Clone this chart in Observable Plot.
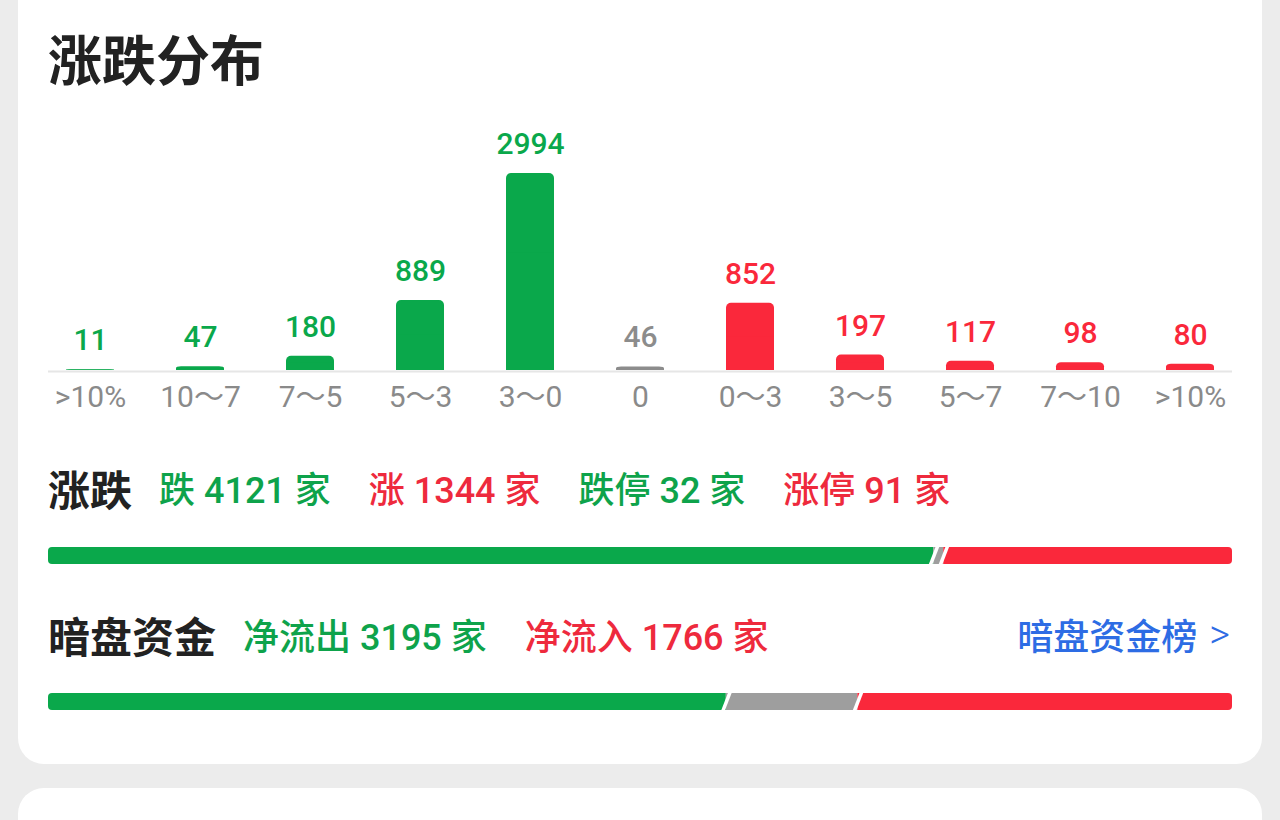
<!DOCTYPE html>
<html>
<head>
<meta charset="utf-8">
<script src="https://cdn.jsdelivr.net/npm/d3@7"></script>
<script src="https://cdn.jsdelivr.net/npm/@observablehq/plot@0.6"></script>
<style>
  html, body { margin: 0; padding: 0; }
  body { width: 1280px; height: 820px; overflow: hidden; position: relative; background: #ececec;
         font-family: Roboto, "Noto Sans CJK SC", sans-serif; }
  .card { position: absolute; background: #fff; border-radius: 26px; }
  .abs { position: absolute; }
  .title { left: 48px; top: 28px; height: 60px; line-height: 60px; font-size: 54px; font-weight: 700; color: #222;
           font-family: "Noto Sans CJK SC", sans-serif; }
  .row { left: 48px; height: 60px; display: flex; align-items: center; white-space: nowrap; }
  .row .label { font-size: 42px; font-weight: 700; color: #222; margin-right: 27px; font-family: "Noto Sans CJK SC", sans-serif; }
  .row .item { font-size: 36px; margin-right: 38px; font-weight: 500; }
  .green { color: #0ea34b; }
  .red { color: #ee2a3d; }
  .link { right: 50px; height: 60px; display: flex; align-items: center; font-size: 36px; color: #2d6ce4; white-space: nowrap; font-weight: 500; }
  .link .chev { margin-left: 12px; font-weight: 300; font-size: 40px; }
  svg { display: block; }
</style>
</head>
<body>
<div class="card" style="left:18px; top:-30px; width:1244px; height:794px;"></div>
<div class="card" style="left:18px; top:788px; width:1244px; height:120px;"></div>

<div class="abs title">涨跌分布</div>
<div id="dist" class="abs" style="left:0; top:110px;"></div>

<div class="abs row" style="top:457px;">
  <span class="label">涨跌</span>
  <span class="item green" id="downTxt"></span>
  <span class="item red" id="upTxt"></span>
  <span class="item green" id="limDownTxt"></span>
  <span class="item red" id="limUpTxt"></span>
</div>
<div id="breadth" class="abs" style="left:0; top:547px;"></div>

<div class="abs row" style="top:604px;">
  <span class="label">暗盘资金</span>
  <span class="item green" id="outTxt"></span>
  <span class="item red" id="inTxt" style="margin-right:0"></span>
</div>
<div class="abs link" style="top:604px;">暗盘资金榜<span class="chev">&gt;</span></div>
<div id="flow" class="abs" style="left:0; top:693px;"></div>

<script>
// ---- data ----
const categories = [">10%", "10～7", "7～5", "5～3", "3～0", "0", "0～3", "3～5", "5～7", "7～10", ">10%"];
const counts = [11, 47, 180, 889, 2994, 46, 852, 197, 117, 98, 80];
const directions = ["down", "down", "down", "down", "down", "flat", "up", "up", "up", "up", "up"];

const breadthKeys = ["down", "flat", "up"];
const breadthValues = [4121, 46, 1344];
const limitDown = 32;
const limitUp = 91;

const flowKeys = ["out", "other", "in"];
const flowValues = [3195, 620, 1766];

// ---- colors ----
const GREEN = "#0aa84b", RED = "#fa283b", GRAY = "#8c8c8c", GRAY2 = "#9e9e9e";

// ---- texts ----
document.getElementById("downTxt").textContent = `跌 ${breadthValues[0]} 家`;
document.getElementById("upTxt").textContent = `涨 ${breadthValues[2]} 家`;
document.getElementById("limDownTxt").textContent = `跌停 ${limitDown} 家`;
document.getElementById("limUpTxt").textContent = `涨停 ${limitUp} 家`;
document.getElementById("outTxt").textContent = `净流出 ${flowValues[0]} 家`;
document.getElementById("inTxt").textContent = `净流入 ${flowValues[2]} 家`;

// ---- distribution chart ----
const dist = categories.map((label, i) => ({i, label, count: counts[i], dir: directions[i]}));

const chart = Plot.plot({
  width: 1280,
  height: 310,
  marginTop: 63,
  marginBottom: 50,
  marginLeft: 62,
  marginRight: 63,
  style: {fontFamily: 'Roboto, "Noto Sans CJK SC", sans-serif', fontSize: "30px", color: "#8a8a8a", background: "transparent", overflow: "visible"},
  x: {domain: d3.range(categories.length), paddingInner: 0.566, paddingOuter: 0, label: null},
  y: {domain: [0, 2500], clamp: true, axis: null, label: null},
  color: {domain: ["down", "flat", "up"], range: [GREEN, GRAY, RED]},
  marks: [
    Plot.ruleY([0], {stroke: "#e6e6e6", strokeWidth: 2, dy: 1, insetLeft: -14, insetRight: -15}),
    Plot.barY(dist, {x: "i", y: "count", fill: "dir", rx: 5}),
    Plot.barY(dist, {x: "i", y: d => d.count / 2, fill: "dir"}),
    Plot.text(dist, {x: "i", y: "count", text: d => String(d.count), fill: "dir", dy: -29,
                     lineAnchor: "middle", fontSize: 30, fontWeight: 500}),
    Plot.axisX({tickSize: 0, tickPadding: 15, tickFormat: i => categories[i], fontSize: 30, fill: "#8a8a8a", label: null})
  ]
});
document.getElementById("dist").appendChild(chart);

// ---- progress bars ----
function progress(keys, values, colors) {
  const total = d3.sum(values);
  let acc = 0;
  const segs = keys.map((key, j) => {
    const s = {key, x1: acc, x2: acc + values[j]};
    acc += values[j];
    return s;
  });
  const innerWidth = 1280 - 48 - 48;
  const k = 4.6 * total / innerWidth;
  const bounds = segs.slice(1).map(s => s.x1);
  return Plot.plot({
    width: 1280,
    height: 17,
    marginTop: 0, marginBottom: 0, marginLeft: 48, marginRight: 48,
    x: {domain: [0, total], axis: null, label: null},
    y: {domain: [0, 1], axis: null, label: null},
    color: {domain: keys, range: colors},
    style: {background: "transparent"},
    marks: [
      Plot.rect(segs.slice(0, 1), {x1: "x1", x2: "x2", y1: 0, y2: 1, fill: "key", rx1: 4}),
      Plot.rect(segs.slice(1, -1), {x1: "x1", x2: "x2", y1: 0, y2: 1, fill: "key"}),
      Plot.rect(segs.slice(-1), {x1: "x1", x2: "x2", y1: 0, y2: 1, fill: "key", rx2: 4}),
      Plot.link(bounds, {x1: b => b - k, x2: b => b + k, y1: -0.2, y2: 1.2, stroke: "white", strokeWidth: 3.5})
    ]
  });
}
document.getElementById("breadth").appendChild(progress(breadthKeys, breadthValues, [GREEN, GRAY2, RED]));
document.getElementById("flow").appendChild(progress(flowKeys, flowValues, [GREEN, GRAY2, RED]));
</script>
</body>
</html>
